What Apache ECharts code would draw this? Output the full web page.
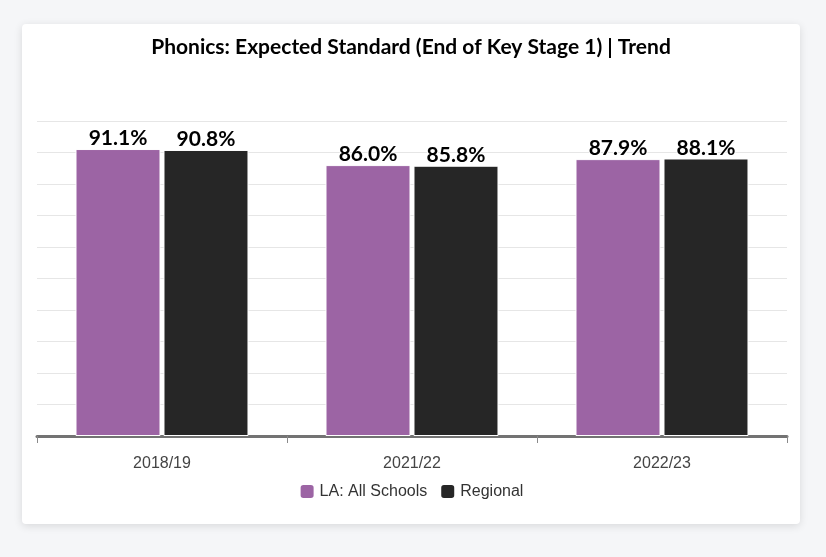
<!DOCTYPE html>
<html><head><meta charset="utf-8">
<script src="https://cdn.jsdelivr.net/npm/echarts@6/dist/echarts.min.js"></script>
<style>
html,body{margin:0;padding:0;background:#f5f6f8;width:826px;height:557px;overflow:hidden;}
#card{position:absolute;left:22px;top:24px;width:778px;height:500px;background:#fff;border-radius:4px;box-shadow:0 2px 8px rgba(0,0,0,0.12);}
#chart{width:778px;height:500px;}
</style></head>
<body><div id="card"><div id="chart"></div></div>
<script>
const categories = ['2018/19', '2021/22', '2022/23'];
const laValues = [91.1, 86.0, 87.9];
const regionalValues = [90.8, 85.8, 88.1];
const seriesNames = ['LA: All Schools', 'Regional'];
const titleText = 'Phonics: Expected Standard (End of Key Stage 1) | Trend';

const labelFont = 'Lato, sans-serif';
const chart = echarts.init(document.getElementById('chart'));
const lbl = {
  show: true, position: 'top', distance: 0,
  formatter: p => p.value.toFixed(1) + '%',
  fontFamily: labelFont, fontWeight: 'bold', fontSize: 21, color: '#000',
  textBorderColor: '#fff', textBorderWidth: 2
};
chart.setOption({
  animation: false,
  title: {
    text: titleText, left: 'center', top: 8,
    textStyle: {fontFamily: labelFont, fontWeight: 'bold', fontSize: 21, color: '#000'}
  },
  legend: {
    data: seriesNames, left: 'center', top: 454, itemWidth: 15, itemHeight: 15, itemGap: 12,
    icon: 'roundRect',
    textStyle: {fontFamily: 'Liberation Sans, Arial, sans-serif', fontSize: 16, color: '#333'}
  },
  grid: {left: 15, right: 13, top: 97, bottom: 88, containLabel: false},
  xAxis: {
    type: 'category', data: categories,
    axisLine: {lineStyle: {color: '#737373', width: 3}},
    axisTick: {show: true, length: 7, lineStyle: {color: '#8a8a8a', width: 1}},
    axisLabel: {margin: 20, fontFamily: 'Liberation Sans, Arial, sans-serif', fontSize: 16, color: '#444'}
  },
  yAxis: {
    type: 'value', min: 0, max: 100, interval: 10,
    axisLabel: {show: false}, axisLine: {show: false}, axisTick: {show: false},
    splitLine: {lineStyle: {color: '#e6e6e6', width: 1}}
  },
  series: [
    {name: seriesNames[0], type: 'bar', data: laValues, barWidth: 85, barGap: '3.5%',
     itemStyle: {color: '#9c64a4', borderColor: '#fff', borderWidth: 1}, label: lbl},
    {name: seriesNames[1], type: 'bar', data: regionalValues, barWidth: 85,
     itemStyle: {color: '#262626', borderColor: '#fff', borderWidth: 1}, label: lbl}
  ]
});
</script></body></html>
